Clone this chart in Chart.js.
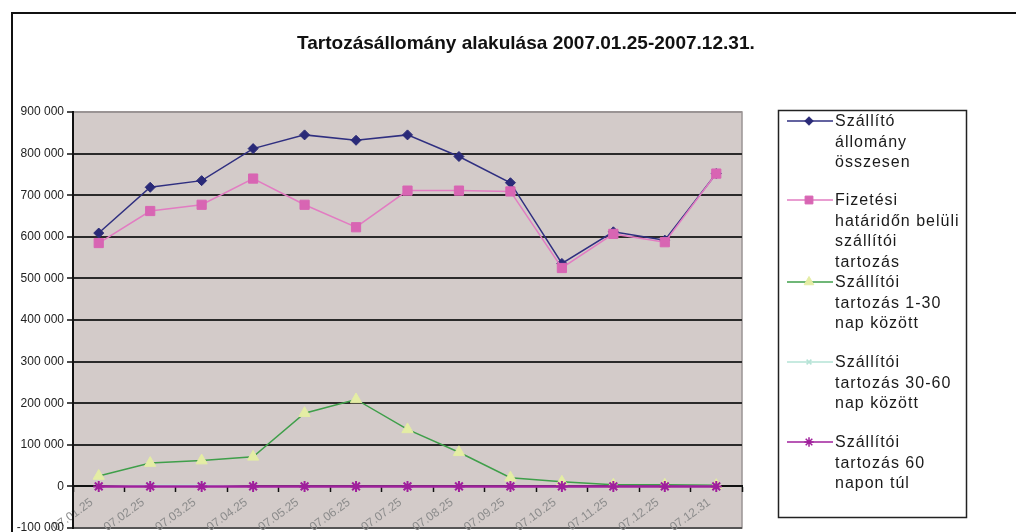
<!DOCTYPE html>
<html>
<head>
<meta charset="utf-8">
<script src="https://cdn.jsdelivr.net/npm/chart.js@4.4.1/dist/chart.umd.min.js"></script>
<style>
  html, body { margin: 0; padding: 0; background: #fff; overflow: hidden; }
  #wrap { width: 1016px; height: 532px; overflow: hidden; position: relative; }
  canvas { display: block; }
</style>
</head>
<body>
<div id="wrap"><canvas id="c" width="1016" height="560"></canvas></div>
<script>
// ---- data ----
const titleText = "Tartozásállomány alakulása 2007.01.25-2007.12.31.";
const categories = ["07.01.25","07.02.25","07.03.25","07.04.25","07.05.25","07.06.25","07.07.25","07.08.25","07.09.25","07.10.25","07.11.25","07.12.25","07.12.31"];
const seriesNames = [
  ["Szállító", "állomány", "összesen"],
  ["Fizetési", "határidőn belüli", "szállítói", "tartozás"],
  ["Szállítói", "tartozás 1-30", "nap között"],
  ["Szállítói", "tartozás 30-60", "nap között"],
  ["Szállítói", "tartozás 60", "napon túl"]
];
const totalDebt   = [609000, 719000, 735000, 812000, 845000, 832000, 845000, 793000, 730000, 536000, 612000, 592000, 752000];
const withinTerm  = [585000, 662000, 677000, 740000, 677000, 623000, 711000, 711000, 709000, 525000, 607000, 587000, 752000];
const overdue1_30 = [25000, 56000, 62000, 71000, 176000, 209000, 137000, 82000, 21000, 11000, 4000, 4000, 3000];
const overdue30_60 = [0, 3000, 3000, 0, 0, 0, 0, 0, 0, 0, 0, 0, 0];
const overdue60   = [0, 0, 0, 0, 0, 0, 0, 0, 0, 0, 0, 0, 0];
const yMin = -100000, yMax = 900000, yStep = 100000;

// ---- styles ----
const styles = [
  { line: '#2f2f80', fill: '#2a2a78', point: 'rectRot', r: 5, w: 1.5 },
  { line: '#e27cc2', fill: '#d865b3', point: 'rect', r: 6.5, w: 1.5 },
  { line: '#3f9f4a', fill: '#e4eda4', point: 'triangle', r: 6.5, w: 1.5 },
  { line: '#b5e3d6', fill: '#b5e3d6', point: 'crossRot', r: 4, w: 1.5 },
  { line: '#a0209c', fill: '#a0209c', point: 'star', r: 5.5, w: 2.5 }
];
const seriesData = [totalDebt, withinTerm, overdue1_30, overdue30_60, overdue60];

const fmt = v => (v < 0 ? '-' : '') + String(Math.abs(v)).replace(/\B(?=(\d{3})+(?!\d))/g, ' ');

const datasets = seriesData.map((d, i) => ({
  label: seriesNames[i].join(' '),
  data: d,
  borderColor: styles[i].line,
  backgroundColor: styles[i].fill,
  borderWidth: styles[i].w,
  pointStyle: styles[i].point,
  pointRadius: styles[i].r,
  pointHoverRadius: styles[i].r,
  pointBackgroundColor: styles[i].fill,
  pointBorderColor: styles[i].fill,
  pointBorderWidth: (styles[i].point === 'star' || styles[i].point === 'crossRot') ? 2 : 1,
  tension: 0,
  fill: false,
  order: 5 - i
}));

const decor = {
  id: 'decor',
  beforeDraw(chart) {
    const { ctx, chartArea: a } = chart;
    ctx.save();
    ctx.fillStyle = '#ffffff';
    ctx.fillRect(0, 0, chart.width, chart.height);
    // chart frame
    ctx.strokeStyle = '#111';
    ctx.lineWidth = 2;
    ctx.beginPath();
    ctx.moveTo(12, chart.height + 5);
    ctx.lineTo(12, 13);
    ctx.lineTo(1020, 13);
    ctx.stroke();
    // plot background
    ctx.fillStyle = '#d3cbc9';
    ctx.fillRect(a.left, a.top, a.right - a.left, a.bottom - a.top);
    // plot border (grey)
    ctx.strokeStyle = '#9a9494';
    ctx.lineWidth = 1.5;
    ctx.strokeRect(a.left, a.top, a.right - a.left, a.bottom - a.top);
    // title
    ctx.fillStyle = '#111';
    let fs = 15;
    ctx.font = 'bold ' + fs + 'px "Liberation Sans", Arial, sans-serif';
    const w = ctx.measureText(titleText).width;
    fs = fs * 458 / w;
    ctx.font = 'bold ' + fs.toFixed(2) + 'px "Liberation Sans", Arial, sans-serif';
    ctx.textAlign = 'left';
    ctx.textBaseline = 'alphabetic';
    ctx.fillText(titleText, 297, 49);
    ctx.restore();
  },
  afterDraw(chart) {
    const { ctx } = chart;
    ctx.save();
    // legend box
    ctx.strokeStyle = '#222';
    ctx.lineWidth = 1.5;
    ctx.strokeRect(778.5, 110.5, 188, 407);
    const tops = [121, 200, 282, 362, 442];
    ctx.font = '16px "Liberation Sans", Arial, sans-serif';
    try { ctx.letterSpacing = '1px'; } catch (e) {}
    ctx.textBaseline = 'middle';
    ctx.textAlign = 'left';
    seriesNames.forEach((lines, i) => {
      const y = tops[i];
      const s = styles[i];
      ctx.strokeStyle = s.line;
      ctx.lineWidth = 1.5;
      ctx.beginPath();
      ctx.moveTo(787, y);
      ctx.lineTo(833, y);
      ctx.stroke();
      ctx.fillStyle = s.fill;
      ctx.strokeStyle = s.fill;
      ctx.lineWidth = (s.point === 'star' || s.point === 'crossRot') ? 1.5 : 1;
      Chart.helpers.drawPoint(ctx, { pointStyle: s.point, radius: s.r * 0.85, rotation: 0, borderWidth: ctx.lineWidth }, 809, y);
      ctx.fillStyle = '#1a1a1a';
      lines.forEach((t, k) => ctx.fillText(t, 835, y + k * 20.4 + 1));
    });
    ctx.restore();
  }
};

new Chart(document.getElementById('c'), {
  type: 'line',
  data: { labels: categories, datasets },
  options: {
    responsive: false,
    animation: false,
    events: [],
    layout: { padding: { left: 12, right: 274, top: 112, bottom: 32 } },
    plugins: { legend: { display: false }, title: { display: false }, tooltip: { enabled: false } },
    scales: {
      x: {
        type: 'category',
        position: { y: 0 },
        offset: true,
        grid: { display: true, offset: true, drawOnChartArea: false, drawTicks: true, tickLength: 5, tickColor: '#111', tickWidth: 1.5 },
        border: { display: true, color: '#111', width: 2 },
        ticks: {
          autoSkip: false, minRotation: 36, maxRotation: 36, padding: 4, labelOffset: -7,
          color: '#8c8c8c',
          font: { family: '"Liberation Sans", Arial, sans-serif', size: 12 }
        }
      },
      y: {
        min: yMin, max: yMax,
        afterFit(scale) { scale.width = 61; },
        grid: {
          color: ctx => (ctx.tick && ctx.tick.value === yMax) ? '#9a9494' : (ctx.tick && ctx.tick.value === yMin ? '#555' : '#2a2a2a'),
          lineWidth: 2,
          drawTicks: true, tickLength: 6, tickColor: '#111', tickWidth: 1.5
        },
        border: { display: true, color: '#111', width: 2 },
        ticks: {
          stepSize: yStep, padding: 3,
          color: '#222',
          font: { family: '"Liberation Sans", Arial, sans-serif', size: 12 },
          callback: v => fmt(v)
        }
      }
    }
  },
  plugins: [decor]
});
</script>
</body>
</html>
